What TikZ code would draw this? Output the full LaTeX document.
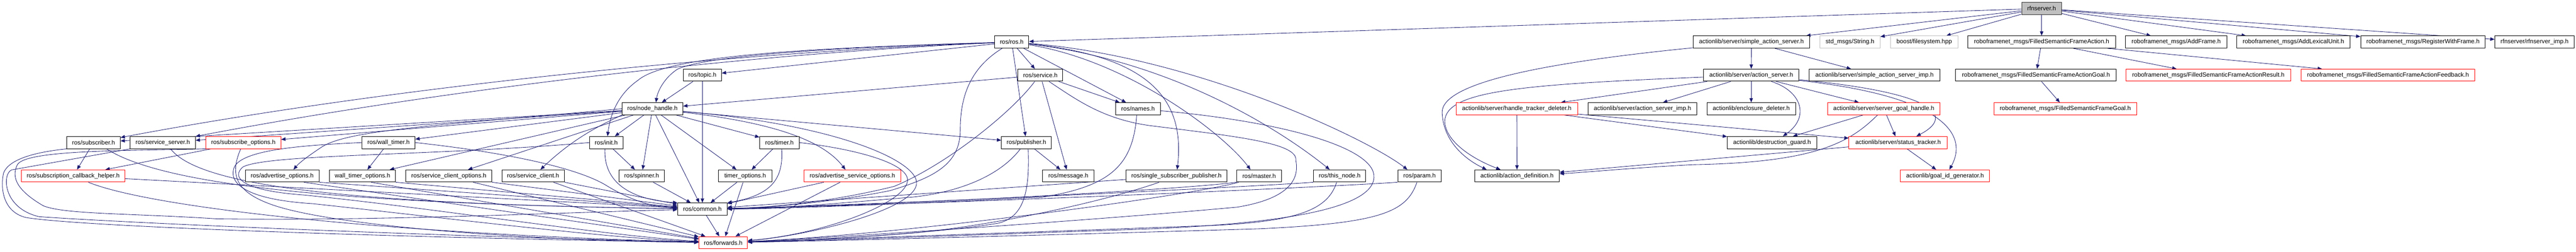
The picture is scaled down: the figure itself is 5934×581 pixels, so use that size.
\documentclass[tikz,border=0pt]{standalone}
\usepackage{fontspec}
\setmainfont{Liberation Sans}
\usetikzlibrary{arrows.meta}
\definecolor{edgec}{HTML}{191970}
\definecolor{grayb}{HTML}{BFBFBF}
\pgfdeclarelayer{edgelayer}
\pgfsetlayers{edgelayer,main}
\tikzset{
 nbox/.style={draw=black, line width=1.2pt, fill=white, minimum height=28pt, inner sep=0pt, font=\fontsize{14}{16}\selectfont, text=black},
 rbox/.style={nbox, draw=red},
 gbox/.style={nbox, draw=grayb},
 root/.style={nbox, fill=grayb, draw=black!80},
 dep/.style={draw=edgec, line width=1pt, -{Triangle[length=10pt,width=8pt]}},
}
\begin{document}
\begin{tikzpicture}[x=1pt,y=-1pt]
\useasboundingbox (0,0) rectangle (5934,581);
% ---------------- nodes ----------------
\node[nbox,minimum width=123pt] (subscriber) at (215.5,329) {ros/subscriber.h};
\node[nbox,minimum width=150pt] (sserver) at (375,329) {ros/service\_server.h};
\node[rbox,minimum width=173pt] (subopt) at (560.5,329) {ros/subscribe\_options.h};
\node[rbox,minimum width=239pt] (subcbh) at (168.5,406) {ros/subscription\_callback\_helper.h};
\node[nbox,minimum width=170pt] (advopt) at (650,406) {ros/advertise\_options.h};
\node[nbox,minimum width=122pt] (walltimer) at (895,329) {ros/wall\_timer.h};
\node[nbox,minimum width=152pt] (wtopt) at (835,406) {wall\_timer\_options.h};
\node[nbox,minimum width=198pt] (scopt) at (1034,406) {ros/service\_client\_options.h};
\node[nbox,minimum width=144pt] (sclient) at (1228,406) {ros/service\_client.h};
\node[nbox,minimum width=77pt] (init) at (1396.5,329) {ros/init.h};
\node[nbox,minimum width=88pt] (topic) at (1618,173.5) {ros/topic.h};
\node[nbox,minimum width=140pt] (nh) at (1503,251) {ros/node\_handle.h};
\node[nbox,minimum width=104pt] (spinner) at (1478,406) {ros/spinner.h};
\node[nbox,minimum width=91pt] (timer) at (1795.5,329) {ros/timer.h};
\node[nbox,minimum width=123pt] (timeropt) at (1716.5,406) {timer\_options.h};
\node[rbox,minimum width=223pt] (asopt) at (1963.5,406) {ros/advertise\_service\_options.h};
\node[nbox,minimum width=114pt] (common) at (1618,482.5) {ros/common.h};
\node[rbox,minimum width=112pt] (forwards) at (1666,560) {ros/forwards.h};
\node[nbox,minimum width=79pt] (ros) at (2330.5,97) {ros/ros.h};
\node[nbox,minimum width=103pt] (service) at (2396.5,173.5) {ros/service.h};
\node[nbox,minimum width=103pt] (names) at (2621.5,251) {ros/names.h};
\node[nbox,minimum width=115pt] (publisher) at (2364.5,329) {ros/publisher.h};
\node[nbox,minimum width=118pt] (message) at (2461,406) {ros/message.h};
\node[nbox,minimum width=232pt] (ssp) at (2710,406) {ros/single\_subscriber\_publisher.h};
\node[nbox,minimum width=103pt] (master) at (2900.5,406) {ros/master.h};
\node[nbox,minimum width=120pt] (thisnode) at (3086,406) {ros/this\_node.h};
\node[nbox,minimum width=100pt] (param) at (3270,406) {ros/param.h};
\node[nbox,minimum width=195pt] (actdef) at (3494.5,406) {actionlib/action\_definition.h};
\node[rbox,minimum width=280pt] (htd) at (3494,251) {actionlib/server/handle\_tracker\_deleter.h};
\node[nbox,minimum width=269pt] (sas) at (4034.5,97) {actionlib/server/simple\_action\_server.h};
\node[nbox,minimum width=220pt] (as) at (4034,173.5) {actionlib/server/action\_server.h};
\node[nbox,minimum width=251pt] (asimp) at (3783.5,251) {actionlib/server/action\_server\_imp.h};
\node[nbox,minimum width=204pt] (encdel) at (4034,251) {actionlib/enclosure\_deleter.h};
\node[nbox,minimum width=206pt] (dguard) at (4082,329) {actionlib/destruction\_guard.h};
\node[gbox,minimum width=139pt] (string) at (4261.5,97) {std\_msgs/String.h};
\node[nbox,minimum width=302pt] (sasimp) at (4318,173.5) {actionlib/server/simple\_action\_server\_imp.h};
\node[gbox,minimum width=155pt] (fs) at (4432.5,97) {boost/filesystem.hpp};
\node[nbox,minimum width=340pt] (fsfa) at (4703,97) {roboframenet\_msgs/FilledSemanticFrameAction.h};
\node[root,minimum width=92pt] (rfn) at (4703,19.5) {rfnserver.h};
\node[nbox,minimum width=370pt] (fsfag) at (4690,173.5) {roboframenet\_msgs/FilledSemanticFrameActionGoal.h};
\node[rbox,minimum width=329pt] (fsfg) at (4757.5,251) {roboframenet\_msgs/FilledSemanticFrameGoal.h};
\node[rbox,minimum width=259pt] (sgh) at (4339.5,251) {actionlib/server/server\_goal\_handle.h};
\node[rbox,minimum width=227pt] (st) at (4372.5,329) {actionlib/server/status\_tracker.h};
\node[rbox,minimum width=205pt] (gig) at (4480.5,406) {actionlib/goal\_id\_generator.h};
\node[nbox,minimum width=234pt] (addframe) at (5013,97) {roboframenet\_msgs/AddFrame.h};
\node[rbox,minimum width=380pt] (fsfar) at (5087,173.5) {roboframenet\_msgs/FilledSemanticFrameActionResult.h};
\node[nbox,minimum width=262pt] (addlu) at (5283,97) {roboframenet\_msgs/AddLexicalUnit.h};
\node[nbox,minimum width=287pt] (regwf) at (5581.5,97) {roboframenet\_msgs/RegisterWithFrame.h};
\node[nbox,minimum width=183pt] (rfnimp) at (5838.5,97) {rfnserver/rfnserver\_imp.h};
\node[rbox,minimum width=400pt] (fsfafb) at (5501,173.5) {roboframenet\_msgs/FilledSemanticFrameActionFeedback.h};
\begin{pgfonlayer}{edgelayer}
\fill[white] (0,0) rectangle (5934,581);
% ---------------- edges: rfnserver ----------------
\draw[dep] (rfn) -- (ros);
\draw[dep] (rfn) -- (sas);
\draw[dep] (rfn) -- (string);
\draw[dep] (rfn) -- (fs);
\draw[dep] (rfn) -- (fsfa);
\draw[dep] (rfn) -- (addframe);
\draw[dep] (rfn) -- (addlu);
\draw[dep] (rfn) -- (regwf);
\draw[dep] (rfn) -- (rfnimp);
% ---------------- actionlib ----------------
\draw[dep] (sas) -- (as);
\draw[dep] (sas) -- (sasimp);
\draw[dep] (sas) .. controls (3500,150) and (3320,200) .. (3322,260) .. controls (3325,330) and (3380,370) .. ([xshift=-70pt]actdef.north);
\draw[dep] (as) .. controls (3500,195) and (3330,210) .. (3328,280) .. controls (3330,330) and (3400,370) .. ([xshift=-38pt]actdef.north);
\draw[dep] (as) -- (htd);
\draw[dep] (as) -- (asimp);
\draw[dep] (as) -- (encdel);
\draw[dep] (as) .. controls (4150,210) and (4170,270) .. ([xshift=25pt]dguard.north);
\draw[dep] (as) -- (sgh);
\draw[dep] (as) .. controls (4470,215) and (4500,270) .. ([xshift=42pt]st.north);
\draw[dep] (as) .. controls (4500,225) and (4530,320) .. ([xshift=10pt]gig.north);
\draw[dep] (htd) -- (actdef);
\draw[dep] (htd) -- (dguard);
\draw[dep] (htd) -- (st);
\draw[dep] (sgh) -- (st);
\draw[dep] (sgh) -- (dguard);
\draw[dep] (sgh) .. controls (4260,330) and (4180,375) .. (3900,380) .. controls (3750,388) and (3650,398) .. (actdef);
\draw[dep] (st) -- (actdef);
\draw[dep] (st) -- (gig);
\draw[dep] (fsfa) -- (fsfag);
\draw[dep] (fsfa) -- (fsfar);
\draw[dep] (fsfa) -- (fsfafb);
\draw[dep] (fsfag) -- (fsfg);
% ---------------- ros/ros.h ----------------
\draw[dep] (ros) .. controls (1700,120) and (900,200) .. (subscriber);
\draw[dep] (ros) .. controls (1700,125) and (1000,210) .. (sserver);
\draw[dep] (ros) .. controls (1900,110) and (1620,130) .. (1560,160) .. controls (1530,180) and (1515,210) .. ([xshift=8pt]nh.north);
\draw[dep] (ros) -- (topic);
\draw[dep] (ros) .. controls (1900,110) and (1540,125) .. (1470,185) .. controls (1420,220) and (1405,270) .. ([xshift=3pt]init.north);
\draw[dep] (ros) -- (service);
\draw[dep] (ros) -- (publisher);
\draw[dep] (ros) -- (names);
\draw[dep] (ros) .. controls (2650,130) and (2730,230) .. (ssp);
\draw[dep] (ros) .. controls (2600,140) and (2820,310) .. ([xshift=-20pt]master.north);
\draw[dep] (ros) .. controls (2700,140) and (2950,300) .. ([xshift=-23pt]thisnode.north);
\draw[dep] (ros) .. controls (2750,130) and (3150,320) .. ([xshift=-28pt]param.north);
\draw[dep] ([xshift=-22pt]ros.south) .. controls (2230,160) and (2212,230) .. (2212,300) .. controls (2212,380) and (2150,410) .. (2050,440) .. controls (1900,470) and (1750,480) .. (common);
% ---------------- topic, service, names ----------------
\draw[dep] (topic) -- (nh);
\draw[dep] (topic) -- (common);
\draw[dep] (service) -- (nh);
\draw[dep] ([xshift=-13pt]service.south) .. controls (2330,260) and (2180,380) .. (2060,430) .. controls (1900,470) and (1750,480) .. (common);
\draw[dep] (service) -- (message);
\draw[dep] (service) -- (names);
\draw[dep] ([xshift=20pt]service.south) .. controls (2480,230) and (2540,275) .. (2650,290) .. controls (2850,315) and (2990,330) .. (2985,370) .. controls (2995,420) and (2960,460) .. (2850,478) .. controls (2500,510) and (1900,550) .. (forwards);
\draw[dep] ([xshift=-3pt]names.south) .. controls (2610,380) and (2560,430) .. (2400,455) .. controls (2100,470) and (1800,482) .. (common);
\draw[dep] (names) .. controls (2950,280) and (3170,340) .. (3165,410) .. controls (3160,490) and (2900,520) .. (2600,530) .. controls (2300,540) and (1900,555) .. (forwards);
% ---------------- publisher, ssp, master, this_node, param ----------------
\draw[dep] (publisher) -- (message);
\draw[dep] ([xshift=-14pt]publisher.south) .. controls (2300,410) and (2200,445) .. (2100,455) .. controls (1900,472) and (1780,482) .. (common);
\draw[dep] ([xshift=4pt]publisher.south) .. controls (2372,440) and (2360,500) .. (2300,515) .. controls (2150,540) and (1850,555) .. (forwards);
\draw[dep] (ssp) -- (common);
\draw[dep] ([xshift=-40pt]ssp.south) .. controls (2560,460) and (2300,520) .. (2100,538) .. controls (1950,550) and (1800,556) .. (forwards);
\draw[dep] (master.south west) .. controls (2700,440) and (2000,475) .. (common);
\draw[dep] ([xshift=5pt]master.south west) .. controls (2750,450) and (2100,540) .. (forwards);
\draw[dep] (thisnode.south west) .. controls (2900,430) and (2100,470) .. (common);
\draw[dep] ([xshift=-7pt]thisnode.south) .. controls (3060,480) and (3000,510) .. (2800,520) .. controls (2400,535) and (1900,552) .. (forwards);
\draw[dep] (param.south west) .. controls (3050,432) and (2200,470) .. (common);
\draw[dep] ([xshift=-6pt]param.south) .. controls (3240,490) and (3180,515) .. (2900,528) .. controls (2500,540) and (1950,555) .. (forwards);
% ---------------- node_handle ----------------
\draw[dep] (nh) -- (init);
\draw[dep] (nh) -- (spinner);
\draw[dep] (nh) -- (common);
\draw[dep] (nh) -- (timeropt);
\draw[dep] (nh) -- (timer);
\draw[dep] (nh) .. controls (1800,285) and (1900,330) .. ([xshift=-16pt]asopt.north);
\draw[dep] (nh) -- (publisher);
\draw[dep] (nh) .. controls (1950,290) and (2130,380) .. (2110,430) .. controls (2090,490) and (1850,545) .. (forwards);
\draw[dep] (nh) -- (subscriber);
\draw[dep] (nh) -- (sserver);
\draw[dep] (nh) -- (subopt);
\draw[dep] (nh.west) .. controls (1000,290) and (800,300) .. (740,340) .. controls (710,360) and (690,375) .. ([xshift=26pt]advopt.north);
\draw[dep] (nh) -- (walltimer);
\draw[dep] (nh) -- (wtopt);
\draw[dep] (nh) -- (scopt);
\draw[dep] (nh.south west) .. controls (1380,290) and (1320,320) .. ([xshift=17pt]sclient.north);
% ---------------- init, timer, options ----------------
\draw[dep] (init) -- (spinner);
\draw[dep] ([xshift=-3pt]init.south) .. controls (1390,420) and (1450,460) .. (common.north west);
\draw[dep] (init.west) .. controls (1000,360) and (620,355) .. (560,385) .. controls (530,410) and (560,440) .. (700,450) .. controls (1000,480) and (1400,545) .. (forwards);
\draw[dep] (timer) -- (timeropt);
\draw[dep] ([xshift=5pt]timer.south) .. controls (1805,410) and (1780,450) .. (common.north east);
\draw[dep] (timer.east) .. controls (1980,345) and (2100,380) .. (2090,420) .. controls (2080,470) and (1900,540) .. (forwards);
\draw[dep] (timeropt) -- (common);
\draw[dep] (timeropt) -- (forwards);
\draw[dep] (spinner) -- (common);
\draw[dep] (asopt) -- (common);
\draw[dep] (asopt) -- (forwards);
\draw[dep] (common) -- (forwards);
% ---------------- wall timer, client, advertise ----------------
\draw[dep] (walltimer) -- (wtopt);
\draw[dep] (walltimer.east) .. controls (1150,350) and (1330,385) .. (1400,430) .. controls (1450,460) and (1500,478) .. (common);
\draw[dep] (walltimer.west) .. controls (700,335) and (560,345) .. (540,385) .. controls (525,420) and (560,460) .. (720,470) .. controls (1000,500) and (1400,550) .. (forwards);
\draw[dep] (wtopt.south east) -- (common);
\draw[dep] ([xshift=20pt]wtopt.south) -- (forwards);
\draw[dep] (scopt.south east) -- (common);
\draw[dep] ([xshift=56pt]scopt.south) -- (forwards);
\draw[dep] (sclient.south east) -- (common);
\draw[dep] ([xshift=47pt]sclient.south) -- (forwards);
\draw[dep] (advopt.south east) -- (common);
\draw[dep] ([xshift=50pt]advopt.south) -- (forwards);
% ---------------- subscriber side ----------------
\draw[dep] (subscriber) -- (subcbh);
\draw[dep] (subopt) -- (subcbh);
\draw[dep] ([xshift=30pt]subscriber.south) .. controls (380,430) and (800,470) .. (common);
\draw[dep] ([xshift=18pt]sserver.south) .. controls (460,430) and (800,470) .. (common);
\draw[dep] ([xshift=-6pt]subopt.south) .. controls (530,400) and (540,440) .. (620,470) .. controls (750,520) and (1200,555) .. (forwards);
\draw[dep] (subcbh) -- (common);
\draw[dep] ([xshift=35pt]subcbh.south) .. controls (350,480) and (900,540) .. (forwards);
\draw[dep] (subscriber.south west) .. controls (90,350) and (20,365) .. (8,400) .. controls (0,440) and (10,490) .. (60,502) .. controls (200,525) and (1000,550) .. (forwards);
\draw[dep] (sserver.south west) -- (27,392) .. controls (5,400) and (5,480) .. (90,500) .. controls (300,515) and (1000,545) .. (forwards);
\draw[dep] (subopt.south west) .. controls (300,348) and (60,345) .. (40,380) .. controls (25,410) and (40,440) .. (100,475) .. controls (150,495) and (300,492) .. (500,505) .. controls (900,510) and (1300,490) .. (common);
\end{pgfonlayer}
\end{tikzpicture}
\end{document}
